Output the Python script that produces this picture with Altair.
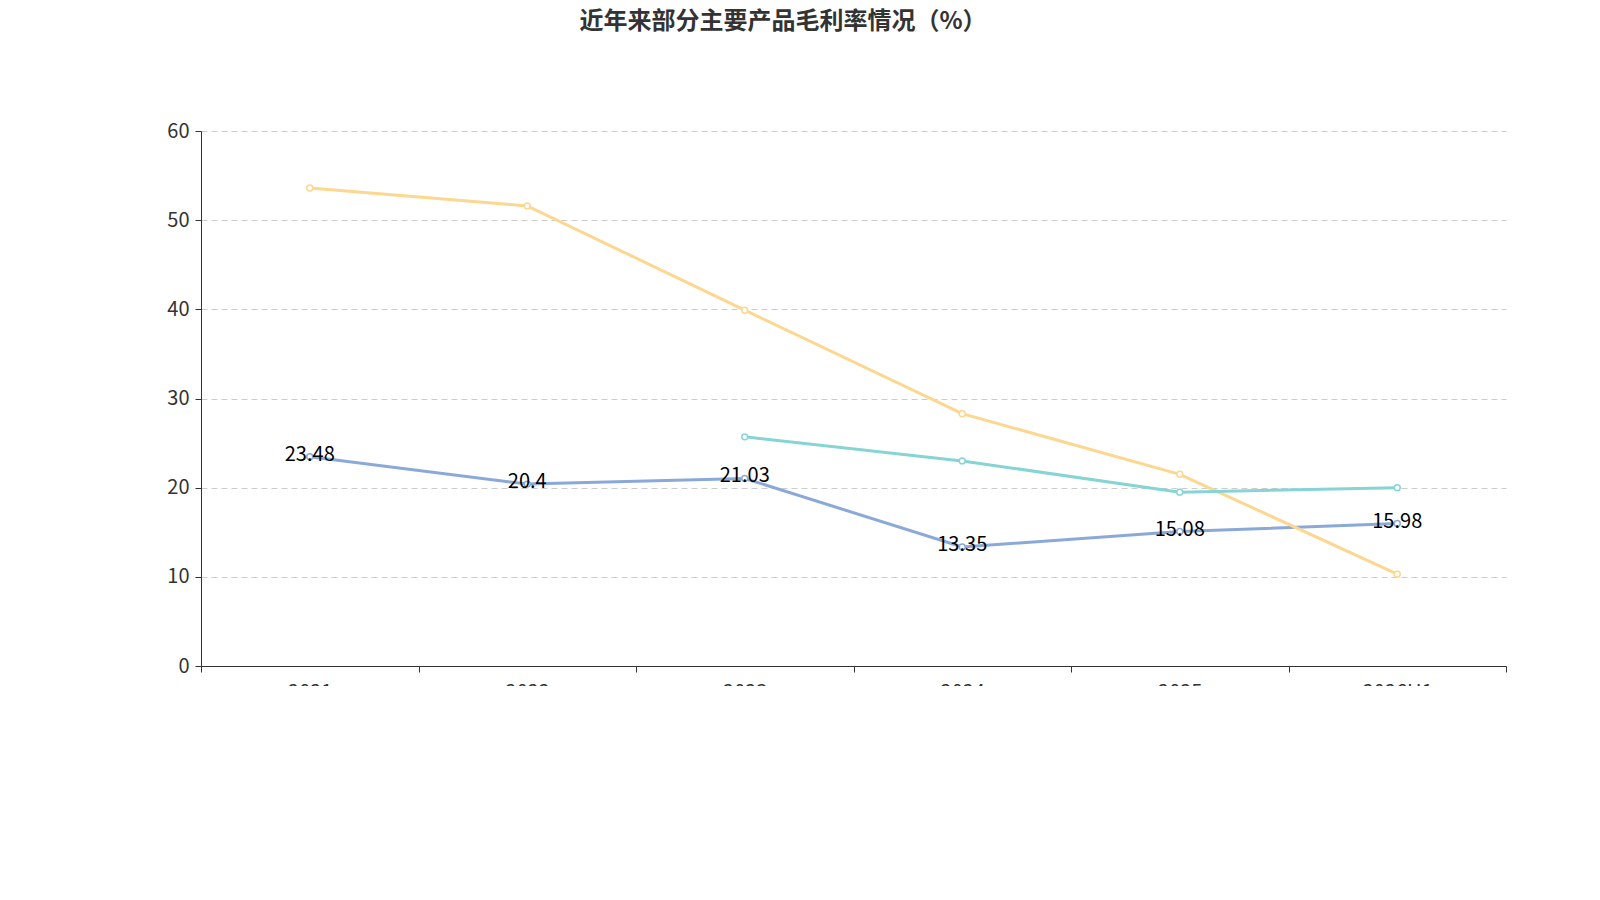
import altair as alt
import pandas as pd

years = ["2021", "2022", "2023", "2024", "2025", "2026H1"]
s1 = [23.48, 20.4, 21.03, 13.35, 15.08, 15.98]
s2 = [53.6, 51.6, 39.9, 28.3, 21.5, 10.3]
s3 = [None, None, 25.7, 23.0, 19.5, 20.0]
names = ["电力工程建设", "电力咨询设计", "电力设备销售"]
colors = ["#8aa9d8", "#fdd78f", "#86d4d4"]

rows = []
for n, s in zip(names, [s1, s2, s3]):
    for y, v in zip(years, s):
        if v is not None:
            rows.append({"year": y, "v": v, "s": n})
df = pd.DataFrame(rows)
lab = pd.DataFrame({"year": years, "v": s1, "t": [str(x) for x in s1]})

F = "Noto Sans CJK SC"
xaxis = alt.Axis(labelAngle=0, tickBand="extent", labelFontSize=20, labelColor="#333",
                 domainColor="#333", tickColor="#333", tickSize=6, labelPadding=10, labelFont=F)
x = alt.X("year:N", sort=years, bandPosition=0.5,
          scale=alt.Scale(type="band", paddingInner=0, paddingOuter=0),
          title=None, axis=xaxis)
y = alt.Y("v:Q", scale=alt.Scale(domain=[0, 60]), title=None,
          axis=alt.Axis(values=[0, 10, 20, 30, 40, 50, 60], labelFontSize=20, labelColor="#333",
                        domain=True, domainColor="#333", tickColor="#333", tickSize=6,
                        grid=True, gridDash=[6, 4], gridColor="#ccc", labelPadding=6, labelFont=F))
color = alt.Color("s:N", sort=names, scale=alt.Scale(domain=names, range=colors),
                  legend=alt.Legend(title=None, orient="none", legendX=262, legendY=677,
                                    direction="horizontal", labelFontSize=22, labelFont=F,
                                    labelColor="#333", symbolType="circle", symbolFillColor="white",
                                    symbolSize=350, symbolStrokeWidth=1.5, columnPadding=22))

base = alt.Chart(df)
line = base.mark_line(strokeWidth=3).encode(x=x, y=y, color=color)
pts = base.mark_point(filled=True, fill="white", size=35, strokeWidth=1.5, opacity=1).encode(
    x=x, y=y, stroke=alt.Stroke("s:N", scale=alt.Scale(domain=names, range=colors), legend=None))
txt = alt.Chart(lab).mark_text(fontSize=20, color="#000", font=F, dy=-2).encode(x=x, y=y, text="t:N")
title = alt.Chart(pd.DataFrame({"t": ["近年来部分主要产品毛利率情况（%）"]})).mark_text(
    fontSize=24, fontWeight="bold", color="#333", font=F).encode(
    x=alt.value(582), y=alt.value(-109), text="t:N")
foot = alt.Chart(pd.DataFrame({"t": ["制图数据来自恒生聚源数据库"]})).mark_text(
    fontSize=17, color="#c8922e", font=F).encode(x=alt.value(582), y=alt.value(741), text="t:N")

chart = alt.layer(line, pts, txt, title, foot).properties(
    width=1305, height=535, autosize=alt.AutoSizeParams(type="none"),
    padding={"left": 193, "top": 123, "right": 40, "bottom": 20}
).configure_view(stroke=None)

chart.save("out.html", embed_options={"renderer": "svg", "actions": False})
